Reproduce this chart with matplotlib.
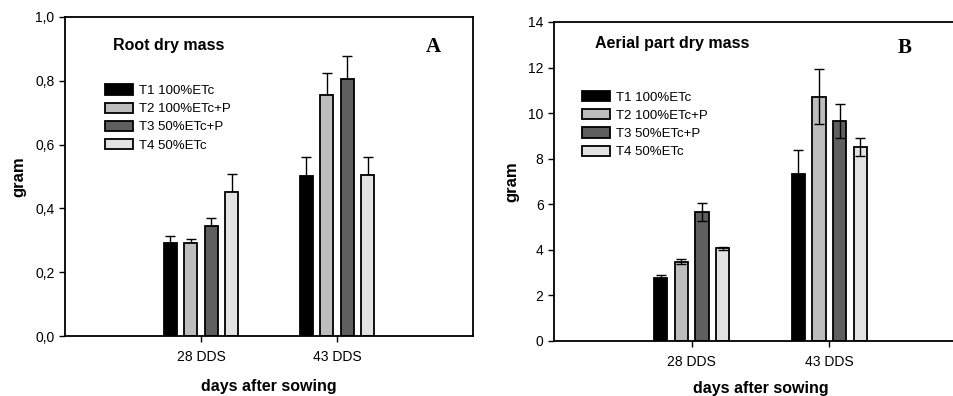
import numpy as np
import matplotlib
matplotlib.use("Agg")
import matplotlib.pyplot as plt
from matplotlib.patches import Patch
from matplotlib.ticker import FuncFormatter

plt.rcParams["font.family"] = ["Liberation Sans", "DejaVu Sans"]

# dane
categories = ["28 DDS", "43 DDS"]
treatments = ["T1 100%ETc", "T2 100%ETc+P", "T3 50%ETc+P", "T4 50%ETc"]
colors = ["#000000", "#bdbdbd", "#5f5f5f", "#e3e3e3"]

root_mean = [[0.29, 0.50], [0.29, 0.757], [0.346, 0.806], [0.452, 0.505]]
root_err = [[0.023, 0.060], [0.013, 0.066], [0.023, 0.072], [0.057, 0.057]]

aerial_mean = [[2.78, 7.31], [3.48, 10.72], [5.67, 9.67], [4.07, 8.53]]
aerial_err = [[0.12, 1.07], [0.10, 1.20], [0.39, 0.75], [0.07, 0.40]]


def draw_panel(ax, means, errs, ylim, yticks, title, title_xy, letter, letter_xy,
               comma, both_sides, leg_xy, xlab_pad):
    x = np.arange(1, len(categories) + 1)
    step, width = 0.15, 0.095
    for i, (m, e, c) in enumerate(zip(means, errs, colors)):
        pos = x + (i - 1.5) * step
        ax.bar(pos, m, width, color=c, edgecolor="black", linewidth=1.3, zorder=2)
        yerr = e if both_sides else [np.zeros(len(e)), e]
        ax.errorbar(pos, m, yerr=yerr, fmt="none", ecolor="black",
                    elinewidth=1.0, capsize=3.5, capthick=1.0,
                    zorder=3 if both_sides else 1)
    ax.set_xlim(0, 3)
    ax.set_ylim(*ylim)
    ax.set_yticks(yticks)
    if comma:
        ax.yaxis.set_major_formatter(FuncFormatter(lambda v, p: f"{v:.1f}".replace(".", ",")))
    ax.set_xticks(x)
    ax.set_xticklabels(categories)
    ax.tick_params(direction="out", length=4, width=1, labelsize=10)
    ax.tick_params(axis="x", pad=6)
    for s in ax.spines.values():
        s.set_linewidth(1.3)
    ax.set_ylabel("gram", fontsize=12, fontweight="bold", labelpad=6)
    ax.set_xlabel("days after sowing", fontsize=11.5, fontweight="bold", labelpad=xlab_pad)
    ax.text(*title_xy, title, transform=ax.transAxes, fontsize=11.5,
            fontweight="bold", ha="left", va="center")
    ax.text(*letter_xy, letter, transform=ax.transAxes, fontsize=15, fontweight="bold",
            family="Liberation Serif", ha="center", va="center")
    handles = [Patch(facecolor=c, edgecolor="black", linewidth=1.3) for c in colors]
    ax.legend(handles, treatments, loc="upper left", bbox_to_anchor=leg_xy,
              frameon=False, fontsize=9.5, handlelength=2.1, handleheight=0.8,
              labelspacing=0.42, handletextpad=0.5, borderaxespad=0)


fig = plt.figure(figsize=(9.54, 3.96), dpi=100)
axA = fig.add_axes([0.0681, 0.1515, 0.4277, 0.8056])
axB = fig.add_axes([0.5807, 0.1389, 0.4329, 0.8056])

draw_panel(axA, root_mean, root_err, (0, 1.0), np.arange(0, 1.01, 0.2),
           "Root dry mass", (0.118, 0.912), "A", (0.902, 0.906), True, False,
           (0.085, 0.805), 11)
draw_panel(axB, aerial_mean, aerial_err, (0, 14), np.arange(0, 15, 2),
           "Aerial part dry mass", (0.099, 0.934), "B", (0.85, 0.918), False, True,
           (0.055, 0.80), 9)

fig.savefig("out.png", dpi=100)
